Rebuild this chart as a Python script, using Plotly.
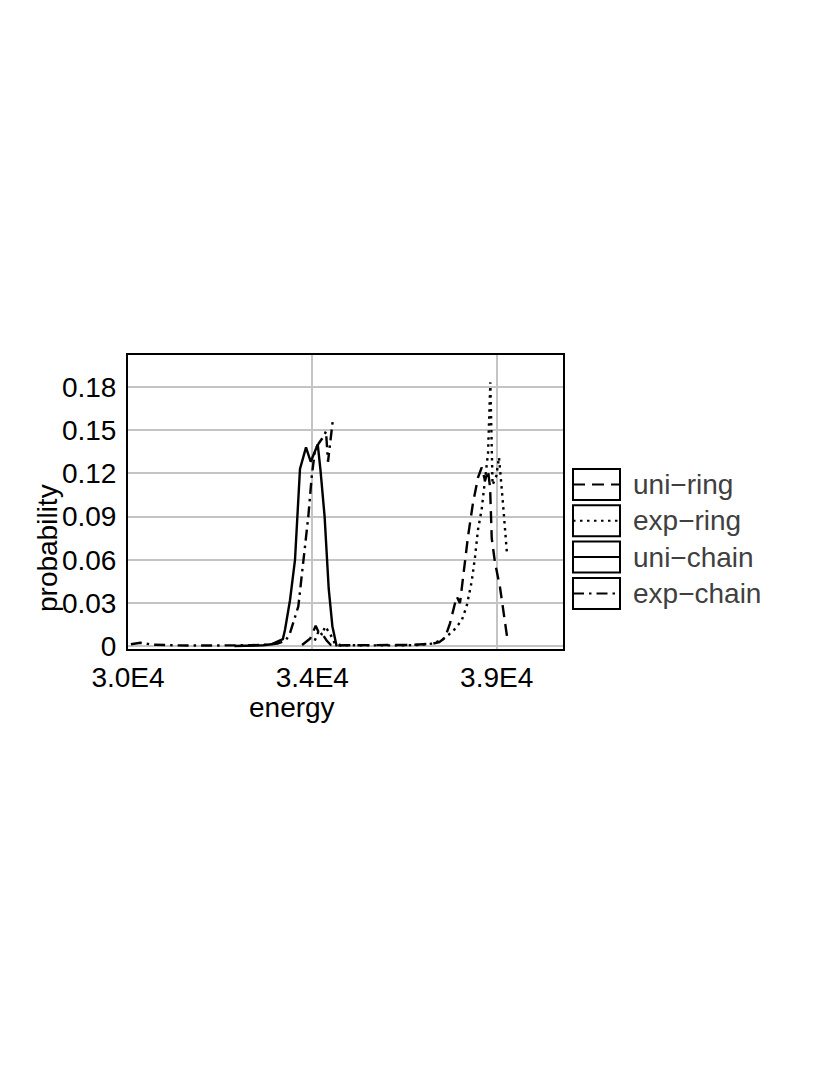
import plotly.graph_objects as go

# ---------------- data ----------------
uni_ring_x = [34250, 34450, 34582, 34660, 34760, 34850, 34950, 35080, 35300, 35700, 36100,
              36500, 36900, 37200, 37450, 37600, 37739, 37861, 38025, 38105, 38180, 38300,
              38420, 38545, 38635, 38716, 38789, 38840, 38880, 38960, 39082, 39155, 39253]
uni_ring_y = [0.001, 0.0055, 0.0143, 0.0095, 0.008, 0.004, 0.001, 0.0005, 0.0008, 0.0008, 0.0007,
              0.0008, 0.001, 0.0015, 0.002, 0.003, 0.006, 0.016, 0.0346, 0.030, 0.048, 0.076,
              0.099, 0.117, 0.124, 0.115, 0.122, 0.110, 0.075, 0.058, 0.041, 0.025, 0.007]

exp_ring_x = [34560, 34660, 34740, 34810, 34930, 35050, 35200, 35600, 36000, 36400, 36800,
              37100, 37446, 37690, 37934, 38147, 38269, 38391, 38472, 38545, 38635, 38716,
              38790, 38846, 38900, 38990, 39058, 39155, 39253]
exp_ring_y = [0.004, 0.011, 0.008, 0.0138, 0.009, 0.002, 0.0008, 0.0006, 0.0006, 0.0007, 0.0008,
              0.001, 0.002, 0.005, 0.0105, 0.018, 0.028, 0.045, 0.062, 0.081, 0.095, 0.114,
              0.134, 0.183, 0.112, 0.118, 0.131, 0.099, 0.064]

uni_chain_x = [32600, 33000, 33300, 33500, 33600, 33700, 33780, 33833, 33955, 34077, 34199,
               34346, 34461, 34632, 34700, 34800, 34900, 34990, 35095]
uni_chain_y = [0.0003, 0.0005, 0.0008, 0.0015, 0.003, 0.004, 0.005, 0.0116, 0.032, 0.060, 0.123,
               0.138, 0.128, 0.140, 0.122, 0.090, 0.040, 0.014, 0.0]

exp_chain_x = [30070, 30300, 30600, 31000, 31400, 31800, 32200, 32600, 33000, 33400, 33650,
               33850, 33955, 34158, 34280, 34402, 34485, 34565, 34663, 34761, 34834, 34883, 35005]
exp_chain_y = [0.0015, 0.0025, 0.0012, 0.0008, 0.0006, 0.0006, 0.0005, 0.0006, 0.0008, 0.0012, 0.002,
               0.004, 0.0092, 0.0277, 0.060, 0.090, 0.1177, 0.136, 0.141, 0.145, 0.149, 0.128, 0.158]

series_names = ["uni\u2212ring", "exp\u2212ring", "uni\u2212chain", "exp\u2212chain"]

x_tickvals = [30000, 34500, 39000]
x_ticktext = ["3.0E4", "3.4E4", "3.9E4"]
y_tickvals = [0, 0.03, 0.06, 0.09, 0.12, 0.15, 0.18]
y_ticktext = ["0", "0.03", "0.06", "0.09", "0.12", "0.15", "0.18"]

x_title = "energy"
y_title = "probability"

# ---------------- styles ----------------
W, H = 830, 1075
OFF = 8  # page body margin
L, R, T, B = 128, 563, 355, 649  # plot area in page pixels
FONT = "Liberation Sans, Arial, Helvetica, sans-serif"
FS = 28
LW = 2.4
dashes = ["12px,7px", "2.5px,4.5px", "solid", "11px,5px,2.5px,5px"]

series = [(uni_ring_x, uni_ring_y), (exp_ring_x, exp_ring_y),
          (uni_chain_x, uni_chain_y), (exp_chain_x, exp_chain_y)]


def px_x(p):
    return (p - L) / (R - L)


def px_y(p):
    return (B - p) / (B - T)


fig = go.Figure()
for (xs, ys), name, d in zip(series, series_names, dashes):
    fig.add_trace(go.Scatter(x=xs, y=ys, mode="lines", name=name, showlegend=False,
                             line=dict(color="black", width=LW, dash=d)))

fig.update_layout(
    width=W, height=H,
    margin=dict(l=L - OFF, r=W - R + OFF, t=T - OFF, b=H - B + OFF, pad=0),
    paper_bgcolor="white", plot_bgcolor="white",
    font=dict(family=FONT, size=FS, color="black"),
)
fig.update_xaxes(range=[30000, 40620], tickmode="array", tickvals=x_tickvals, ticktext=x_ticktext,
                 showgrid=True, gridcolor="#c4c4c4", gridwidth=2, zeroline=False,
                 showline=True, mirror=True, linecolor="black", linewidth=2,
                 ticks="outside", ticklen=2, tickcolor="rgba(0,0,0,0)",
                 tickfont=dict(size=FS, color="black", family=FONT))
fig.update_yaxes(range=[-0.0018, 0.202], tickmode="array", tickvals=y_tickvals, ticktext=y_ticktext,
                 showgrid=True, gridcolor="#c4c4c4", gridwidth=2, zeroline=False,
                 showline=True, mirror=True, linecolor="black", linewidth=2,
                 ticks="outside", ticklen=4, tickcolor="rgba(0,0,0,0)",
                 tickfont=dict(size=FS, color="black", family=FONT))

# axis titles
fig.add_annotation(text=x_title, x=px_x(292), y=px_y(707), xref="paper", yref="paper",
                   showarrow=False, font=dict(size=FS, color="black", family=FONT),
                   xanchor="center", yanchor="middle")
fig.add_annotation(text=y_title, x=px_x(47), y=px_y(548), xref="paper", yref="paper",
                   showarrow=False, textangle=-90, font=dict(size=FS, color="black", family=FONT),
                   xanchor="center", yanchor="middle")

# legend (boxed samples)
box_l, box_r = 573, 620
box_top0, box_h, box_step = 469, 31, 36.3
for i, (name, d) in enumerate(zip(series_names, dashes)):
    top = box_top0 + i * box_step
    bot = top + box_h
    mid = (top + bot) / 2
    fig.add_shape(type="rect", xref="paper", yref="paper",
                  x0=px_x(box_l), x1=px_x(box_r), y0=px_y(bot), y1=px_y(top),
                  line=dict(color="black", width=2), fillcolor="white")
    fig.add_shape(type="line", xref="paper", yref="paper",
                  x0=px_x(box_l), x1=px_x(box_r), y0=px_y(mid), y1=px_y(mid),
                  line=dict(color="black", width=2, dash=d))
    fig.add_annotation(text=name, x=px_x(631), y=px_y(mid), xref="paper", yref="paper",
                       showarrow=False, xanchor="left", yanchor="middle",
                       font=dict(size=FS, color="#404040", family=FONT))

fig.write_html("out.html")
